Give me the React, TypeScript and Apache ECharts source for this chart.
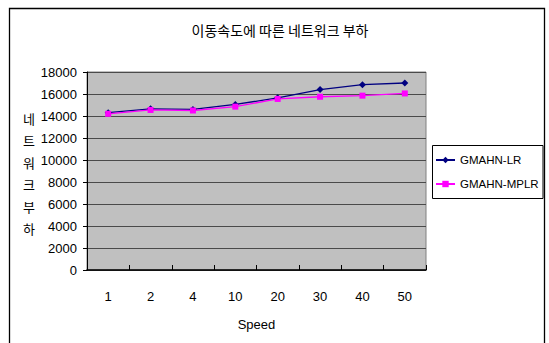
import React, { useEffect, useRef } from "react";
import * as echarts from "echarts";

// Mobility speed categories on the x axis
const categories = ["1", "2", "4", "10", "20", "30", "40", "50"];

// Network load per scheme
const lrValues = [14300, 14650, 14600, 15050, 15650, 16400, 16850, 17000];
const mplrValues = [14200, 14550, 14500, 14850, 15550, 15750, 15850, 16050];

const seriesNames = ["GMAHN-LR", "GMAHN-MPLR"];

// Value axis range
const yMin = 0;
const yMax = 18000;
const yStep = 2000;

const chartTitle = "이동속도에 따른 네트워크 부하";
const yAxisTitle = "네트워크 부하";
const xAxisTitle = "Speed";

const LATIN = "'Liberation Sans', Arial, sans-serif";
const HANGUL = "'Noto Sans CJK KR', 'Noto Sans', sans-serif";

export default function App() {
  const ref = useRef<HTMLDivElement>(null);

  useEffect(() => {
    if (!ref.current) return;
    const chart = echarts.init(ref.current, null, { renderer: "svg" });

    // vertical axis title: one glyph per line, spaces dropped
    const stackedYTitle = yAxisTitle.replace(/\s+/g, "").split("").join("\n");

    chart.setOption({
      animation: false,
      backgroundColor: "#ffffff",
      grid: {
        left: 87,
        top: 72,
        width: 339,
        height: 198,
        show: true,
        backgroundColor: "#c0c0c0",
        borderColor: "#808080",
        borderWidth: 1,
      },
      legend: {
        orient: "vertical",
        left: 435,
        top: 154,
        padding: 0,
        itemWidth: 19,
        itemHeight: 8,
        itemGap: 12,
        textStyle: { fontFamily: LATIN, fontSize: 11.5, color: "#000", lineHeight: 12 },
        data: seriesNames,
      },
      xAxis: {
        type: "category",
        data: categories,
        boundaryGap: true,
        name: xAxisTitle,
        nameLocation: "middle",
        nameGap: 48,
        nameTextStyle: { fontFamily: LATIN, fontSize: 13, color: "#000" },
        axisLine: { show: true, lineStyle: { color: "#000", width: 1.5 } },
        axisTick: { show: true, inside: true, length: 5, lineStyle: { color: "#000" } },
        axisLabel: { fontFamily: LATIN, fontSize: 13, color: "#000", margin: 20 },
        splitLine: { show: false },
      },
      yAxis: {
        type: "value",
        min: yMin,
        max: yMax,
        interval: yStep,
        axisLine: { show: true, lineStyle: { color: "#000", width: 1 } },
        axisTick: { show: true, inside: false, length: 4, lineStyle: { color: "#000" } },
        axisLabel: {
          fontFamily: LATIN,
          fontSize: 13,
          color: "#000",
          margin: 10,
          formatter: (v: number) => String(v),
        },
        splitLine: { show: true, lineStyle: { color: "#4a4a4a", width: 1 } },
      },
      series: [
        {
          name: seriesNames[0],
          type: "line",
          data: lrValues,
          symbol: "diamond",
          symbolSize: 7,
          itemStyle: { color: "#000080" },
          lineStyle: { color: "#000080", width: 1.3 },
        },
        {
          name: seriesNames[1],
          type: "line",
          data: mplrValues,
          symbol: "rect",
          symbolSize: 6,
          itemStyle: { color: "#ff00ff" },
          lineStyle: { color: "#ff00ff", width: 1.3 },
        },
      ],
      graphic: [
        {
          type: "rect",
          silent: true,
          z: -1,
          shape: { x: 9.5, y: 8.5, width: 535, height: 350 },
          style: { fill: "none", stroke: "#000", lineWidth: 1.3 },
        },
        {
          type: "rect",
          silent: true,
          shape: { x: 432.5, y: 145.5, width: 110.5, height: 53 },
          style: { fill: "none", stroke: "#000", lineWidth: 1 },
        },
        {
          type: "text",
          silent: true,
          x: 280,
          y: 30,
          style: {
            text: chartTitle,
            fontFamily: HANGUL,
            fontSize: 14,
            fill: "#000",
            align: "center",
            verticalAlign: "middle",
          },
        },
        {
          type: "text",
          silent: true,
          x: 29,
          y: 173,
          style: {
            text: stackedYTitle,
            fontFamily: HANGUL,
            fontSize: 13,
            lineHeight: 22,
            fill: "#000",
            align: "center",
            verticalAlign: "middle",
          },
        },
      ],
    });

    return () => chart.dispose();
  }, []);

  return (
    <div
      ref={ref}
      style={{ position: "fixed", left: 0, top: 0, width: 549, height: 343, background: "#fff" }}
    />
  );
}
